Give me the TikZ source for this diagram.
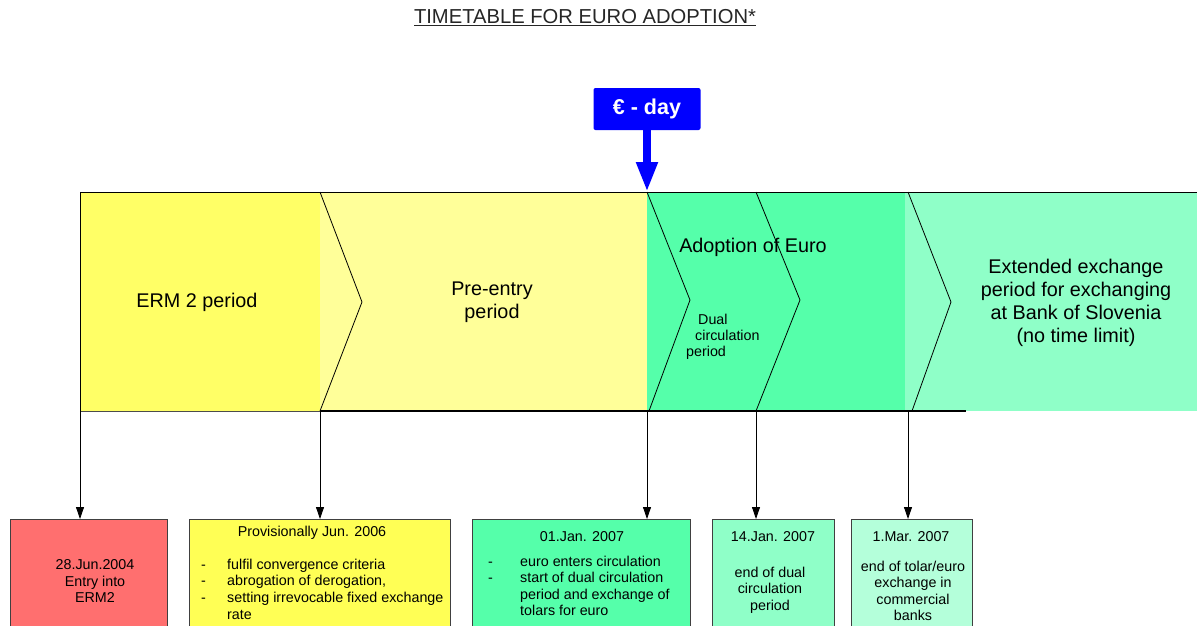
\documentclass[tikz,border=0pt]{standalone}
\usepackage{fontspec}
\setmainfont{Liberation Sans}
\usetikzlibrary{arrows.meta}
\definecolor{ermY}{RGB}{255,255,102}
\definecolor{preY}{RGB}{255,255,153}
\definecolor{adoG}{RGB}{85,255,170}
\definecolor{extG}{RGB}{143,255,200}
\definecolor{redB}{RGB}{255,111,111}
\definecolor{yelB}{RGB}{255,255,85}
\definecolor{lgtG}{RGB}{180,255,218}
\definecolor{eblue}{RGB}{0,0,255}
\begin{document}
\begin{tikzpicture}[x=1pt,y=-1pt,
  seg/.style={draw=none,inner sep=0pt,minimum height=219pt,anchor=north west},
  chev/.style={draw=black,line width=0.8pt},
  lab/.style={inner sep=0pt,align=center,font=\fontsize{19.8}{23}\selectfont},
  small/.style={inner sep=0pt,align=center,font=\fontsize{14.3}{16.5}\selectfont},
  smallw/.style={inner sep=0pt,anchor=west,text height=0.72em,text depth=0pt,font=\fontsize{14.3}{16.5}\selectfont},
  datebox/.style={draw=black!75,line width=0.9pt,minimum height=130pt,anchor=north west,inner sep=0pt},
  conn/.style={draw=black,line width=0.8pt,-{Triangle[length=12pt,width=8pt]}},
]
\useasboundingbox (0,0) rectangle (1197,625);
\clip (0,0) rectangle (1197,625);
\fill[white] (0,0) rectangle (1197,625);

% title
\node[inner sep=0pt,font=\fontsize{20.2}{24}\selectfont,text=black!85] (title) at (585,18) {\underline{TIMETABLE FOR EURO ADOPTION*}};

% band segments
\node[seg,fill=ermY,minimum width=240pt] (erm) at (80,192) {};
\node[seg,fill=preY,minimum width=327pt] (pre) at (320,192) {};
\node[seg,fill=adoG,minimum width=258pt] (ado) at (647,192) {};
\node[seg,fill=extG,minimum width=292pt] (ext) at (905,192) {};

% chevrons
\draw[chev] (320,192) -- (362,302) -- (320,411);
\draw[chev] (647,192) -- (690,300) -- (649,411);
\draw[chev] (756,192) -- (800,300) -- (756,411);
\draw[chev] (908,192) -- (951,302) -- (912,411);

% band border
\draw[black,line width=0.8pt] (80,411) -- (80,192) -- (1197,192);
\draw[black!70,line width=0.8pt] (80,411) -- (320,411);
\draw[black,line width=1.4pt] (320,411) -- (966,411);

% band labels
\node[lab] (ermt) at (197,302) {ERM 2 period};
\node[lab] (pret) at (492,302) {Pre-entry\\period};
\node[lab] (adot) at (753,247) {Adoption of Euro};
\node[smallw] (dual1) at (698,321) {Dual};
\node[smallw] (dual2) at (695,337) {circulation};
\node[smallw] (dual3) at (686,353) {period};
\node[lab] (extt) at (1076,303) {Extended exchange\\period for exchanging\\at Bank of Slovenia\\(no time limit)};

% euro day
\node[fill=eblue,rounded corners=2pt,minimum width=107pt,minimum height=42pt,inner sep=0pt,text=white,font=\bfseries\fontsize{21.5}{25}\selectfont] (eday) at (647,109) {€ - day};
\coordinate (etip) at (647,192);
\draw[eblue,line width=8pt,-{Triangle[length=30pt,width=20pt]}] (eday.south) -- (etip);

% date boxes
\node[datebox,fill=redB,minimum width=157pt] (b1) at (10,519) {};
\node[datebox,fill=yelB,minimum width=261pt] (b2) at (189,519) {};
\node[datebox,fill=adoG,minimum width=218pt] (b3) at (472,519) {};
\node[datebox,fill=extG,minimum width=122pt] (b4) at (712,519) {};
\node[datebox,fill=lgtG,minimum width=121pt] (b5) at (851,519) {};

% connectors
\coordinate (c1) at (80,411);
\coordinate (c2) at (320,411);
\coordinate (c3) at (647,411);
\coordinate (c4) at (756,411);
\coordinate (c5) at (908,411);
\draw[conn] (c1) -- (c1 |- b1.north);
\draw[conn] (c2) -- (c2 |- b2.north);
\draw[conn] (c3) -- (c3 |- b3.north);
\draw[conn] (c4) -- (c4 |- b4.north);
\draw[conn] (c5) -- (c5 |- b5.north);

% box 1
\node[small] (t1) at (95,581) {28.Jun.2004\\Entry into\\ERM2};
% box 2
\node[small] (t2h) at (312,533) {Provisionally Jun. 2006};
\node[smallw] (d21) at (201,566) {-};
\node[smallw] (d22) at (201,582) {-};
\node[smallw] (d23) at (201,599) {-};
\node[smallw] (t21) at (227,566) {fulfil convergence criteria};
\node[smallw] (t22) at (227,582) {abrogation of derogation,};
\node[smallw] (t23) at (227,599) {setting irrevocable fixed exchange};
\node[smallw] (t24) at (227,616) {rate};
% box 3
\node[small] (t3h) at (582,537) {01.Jan. 2007};
\node[smallw] (d31) at (488,563) {-};
\node[smallw] (d32) at (488,579) {-};
\node[smallw] (t31) at (520,563) {euro enters circulation};
\node[smallw] (t32) at (520,579) {start of dual circulation};
\node[smallw] (t33) at (520,596) {period and exchange of};
\node[smallw] (t34) at (520,612) {tolars for euro};
% box 4
\node[small] (t4h) at (773,537) {14.Jan. 2007};
\node[small] (t4) at (770,590) {end of dual\\circulation\\period};
% box 5
\node[small] (t5h) at (911,537) {1.Mar. 2007};
\node[small] (t5) at (913,591) {end of tolar/euro\\exchange in\\commercial\\banks};
\end{tikzpicture}
\end{document}
